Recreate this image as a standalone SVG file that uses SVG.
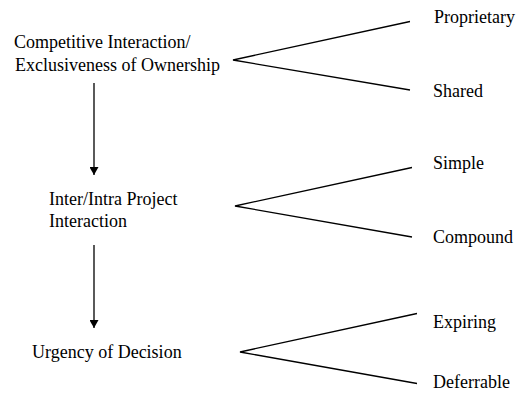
<svg xmlns="http://www.w3.org/2000/svg" width="518" height="396" viewBox="0 0 518 396">
<style>
text { font-family: "Liberation Serif", "Times New Roman", serif; font-size: 18px; fill: #000; }
.ln { stroke: #000; stroke-width: 1.3; fill: none; }
</style>
<defs>
<marker id="ah" viewBox="0 0 8 9" refX="8" refY="4.5" markerWidth="8" markerHeight="9" markerUnits="userSpaceOnUse" orient="auto">
<path d="M0,0 L8,4.5 L0,9 Z" fill="#000"/>
</marker>
</defs>
<rect width="518" height="396" fill="#fff"/>
<g id="node-competitive">
<text x="14" y="48">Competitive Interaction/</text>
<text x="15" y="70.5">Exclusiveness of Ownership</text>
</g>
<g id="node-proprietary"><text x="434" y="23">Proprietary</text></g>
<g id="node-shared"><text x="433" y="97">Shared</text></g>
<g id="node-interaction">
<text x="49" y="205">Inter/Intra Project</text>
<text x="49" y="227">Interaction</text>
</g>
<g id="node-simple"><text x="433" y="169">Simple</text></g>
<g id="node-compound"><text x="433" y="243">Compound</text></g>
<g id="node-urgency"><text x="32" y="358">Urgency of Decision</text></g>
<g id="node-expiring"><text x="433" y="328">Expiring</text></g>
<g id="node-deferrable"><text x="433" y="388">Deferrable</text></g>
<g id="connectors">
<polyline class="ln" points="410,21.5 233,60 410,90"/>
<polyline class="ln" points="412,167.5 235,206 412,237"/>
<polyline class="ln" points="417,313.5 240,352 417,383.5"/>
<line class="ln" x1="94" y1="83" x2="94" y2="175" marker-end="url(#ah)"/>
<line class="ln" x1="94" y1="245" x2="94" y2="328" marker-end="url(#ah)"/>
</g>
</svg>
